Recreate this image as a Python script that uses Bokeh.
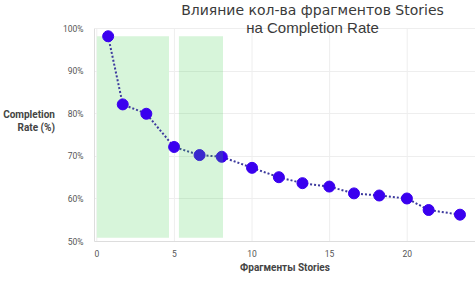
from bokeh.plotting import figure
from bokeh.models import ColumnDataSource, FixedTicker, Label, Range1d
from bokeh.embed import file_html
from bokeh.resources import INLINE

# ---- data ----
fragments = [0.73, 1.67, 3.19, 4.98, 6.62, 8.05, 10.0, 11.73, 13.25, 14.98, 16.57, 18.2, 19.98, 21.38, 23.4]
completion = [98.2, 82.2, 80.0, 72.2, 70.3, 69.9, 67.3, 65.1, 63.7, 62.9, 61.3, 60.8, 60.1, 57.4, 56.3]
band_left = [0.0, 5.29]
band_right = [4.65, 8.13]
band_bottom = [50.9, 50.9]
band_top = [98.2, 98.2]
x_ticks = [0, 5, 10, 15, 20]
y_ticks = [50, 60, 70, 80, 90, 100]
y_tick_labels = {v: f"{v}%" for v in y_ticks}
title_lines = ["Влияние кол-ва фрагментов Stories", "на Completion Rate"]
y_label = "Completion\nRate (%)"
x_label = "Фрагменты Stories"

p = figure(width=475, height=281, output_backend="svg", toolbar_location=None,
           x_range=Range1d(-0.15, 24.4), y_range=Range1d(50, 106.6),
           min_border_left=93, min_border_right=0, min_border_top=0, min_border_bottom=40)
p.outline_line_color = None
p.background_fill_color = "white"
p.border_fill_color = "white"

# grid
p.xgrid.visible = False
p.ygrid.ticker = FixedTicker(ticks=y_ticks)
p.ygrid.grid_line_color = "#eeeeee"
n = len(x_ticks)
p.segment(x0=x_ticks, y0=[y_ticks[0]] * n, x1=x_ticks, y1=[y_ticks[-1]] * n,
          line_color="#eeeeee", line_width=1)

# first band beneath, series, second band on top (slightly tinting the markers)
p.quad(left=band_left[:1], right=band_right[:1], bottom=band_bottom[:1], top=band_top[:1],
       fill_color="#d7f5da", line_color=None)
src = ColumnDataSource(dict(x=fragments, y=completion))
p.line("x", "y", source=src, line_color="#3d3a9e", line_width=2, line_dash="2 2")
p.scatter("x", "y", source=src, size=11, fill_color="#3a00ef", line_color="#3a00ef")
p.quad(left=band_left[1:], right=band_right[1:], bottom=band_bottom[1:], top=band_top[1:],
       fill_color="#37cd46", fill_alpha=0.2, line_color=None)

# axes
for ax in (p.xaxis[0], p.yaxis[0]):
    ax.axis_line_color = "#dddddd"
    ax.major_tick_line_color = None
    ax.minor_tick_line_color = None
    ax.major_label_text_font = "Roboto"
    ax.major_label_text_font_size = "8.5px"
    ax.major_label_text_color = "#555555"
    ax.axis_label_text_font = "Roboto"
    ax.axis_label_text_font_size = "10px"
    ax.axis_label_text_font_style = "bold"
    ax.axis_label_text_color = "#444444"
p.xaxis.ticker = FixedTicker(ticks=x_ticks)
p.yaxis.ticker = FixedTicker(ticks=y_ticks)
p.yaxis.bounds = (y_ticks[0], y_ticks[-1])
p.yaxis.major_label_overrides = y_tick_labels
p.xaxis.major_label_standoff = 2
p.yaxis.major_label_standoff = 5
p.xaxis.axis_label = x_label
p.xaxis.axis_label_standoff = 2
p.yaxis.axis_label = y_label
p.yaxis.axis_label_orientation = "horizontal"
p.yaxis.axis_label_standoff = 5

# title (inside the frame area, which spans to the top of the canvas)
p.add_layout(Label(x=218, y=232, x_units="screen", y_units="screen", text=title_lines[0],
                   text_align="center", text_baseline="alphabetic",
                   text_font="DejaVu Sans", text_font_size="14px", text_color="#3a3a3a"))
p.add_layout(Label(x=218, y=214, x_units="screen", y_units="screen", text=title_lines[1],
                   text_align="center", text_baseline="alphabetic",
                   text_font="Liberation Sans", text_font_size="15px", text_color="#3a3a3a"))

open("out.html", "w").write(file_html(p, INLINE))
